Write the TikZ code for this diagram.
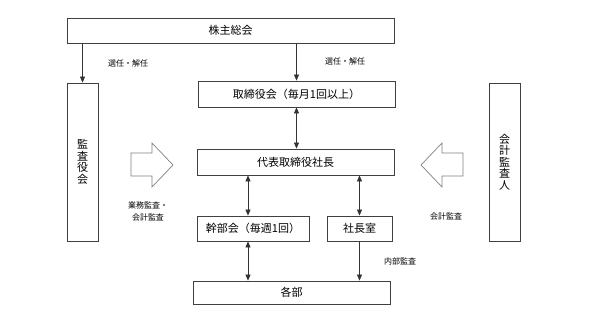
\documentclass[tikz,border=0pt]{standalone}
\usepackage{fontspec}
\setmainfont{Noto Sans CJK JP}
\usepackage{tikz}
\usetikzlibrary{arrows.meta, positioning}

\begin{document}
\begin{tikzpicture}[
        x=1pt, y=-1pt,
        box/.style={
            rectangle,
            draw=black!75,
            line width=0.8pt,
            fill=white,
            inner sep=0pt,
            font=\fontsize{11}{11}\selectfont,
            align=center
        },
        tall/.style={
            box,
            minimum width=31pt,
            minimum height=158pt,
            font=\fontsize{11}{11.5}\selectfont
        },
        lbl/.style={font=\fontsize{8}{12}\selectfont, align=center, inner sep=0pt},
        arr/.style={-{Triangle[length=6pt, width=5pt]}, line width=0.7pt, draw=black!80},
        dbl/.style={{Triangle[length=6pt, width=5pt]}-{Triangle[length=6pt, width=5pt]}, line width=0.7pt, draw=black!80},
        blk/.style={draw=black!50, line width=0.7pt, fill=white, line join=miter}
    ]
        \useasboundingbox (0,0) rectangle (590,332);
        \node[box, minimum width=327pt, minimum height=25pt] (meeting) at (230.5,30.5) {株主総会};
        \node[tall] (kansa) at (82.5,162) {監\\査\\役\\会};
        \node[box, minimum width=197pt, minimum height=26pt] (board) at (296.5,94) {取締役会（毎月1回以上）};
        \node[box, minimum width=197pt, minimum height=26pt] (ceo) at (295.5,162) {代表取締役社長};
        \node[box, minimum width=112pt, minimum height=25pt] (execs) at (253,228.5) {幹部会（毎週1回）};
        \node[box, minimum width=65pt, minimum height=25pt] (office) at (359.5,228.5) {社長室};
        \node[box, minimum width=197pt, minimum height=23pt] (depts) at (291.5,292.5) {各部};
        \node[tall] (auditor) at (504.5,162) {会\\計\\監\\査\\人};
        \draw[arr] (meeting.south -| kansa) -- (kansa.north);
        \draw[arr] (meeting.south -| board) -- (board.north);
        \draw[dbl] (board.south) -- (board.south |- ceo.north);
        \draw[dbl] ([xshift=-5pt]execs.north) -- ([xshift=-5pt]execs.north |- ceo.south);
        \draw[dbl] (office.north) -- (office.north |- ceo.south);
        \draw[dbl] ([xshift=-5pt]execs.south) -- ([xshift=-5pt]execs.south |- depts.north);
        \draw[arr] (office.south) -- (office.south |- depts.north);
        \draw[blk] (131,153) -- (152,153) -- (152,143) -- (173,165) -- (152,187) -- (152,176) -- (131,176) -- cycle;
        \draw[blk] (463,153) -- (442,153) -- (442,143) -- (421,165) -- (442,187) -- (442,176) -- (463,176) -- cycle;
        \node[lbl] (elect1) at (128,63) {選任・解任};
        \node[lbl] (elect2) at (345,61) {選任・解任};
        \node[lbl] (audit1) at (148,211.5) {業務監査・\\会計監査};
        \node[lbl] (audit2) at (446,216) {会計監査};
        \node[lbl] (audit3) at (400,261) {内部監査};
    \end{tikzpicture}
\end{document}
